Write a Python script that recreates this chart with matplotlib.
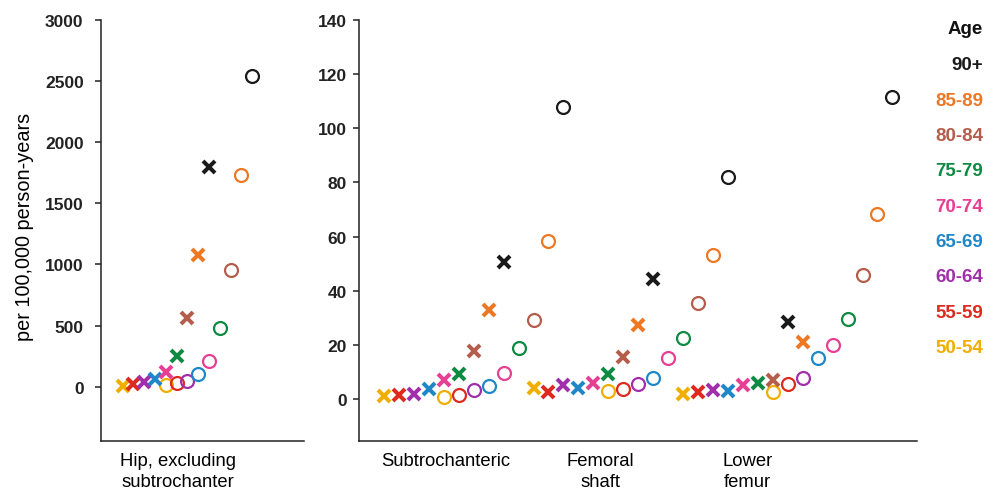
from matplotlib import pyplot as plt

# Age bands and their colours (legend order is reversed on the chart)
AGES = ["50-54", "55-59", "60-64", "65-69", "70-74", "75-79", "80-84", "85-89", "90+"]
AGE_COLOURS = [
    "#F0AE00",
    "#DD2A1E",
    "#A12FAB",
    "#1F87C8",
    "#E63F94",
    "#0E8A43",
    "#B55D4C",
    "#EE7722",
    "#1A1A1A",
]

# Rates per 100,000 person-years (x = men, o = women)
hip_male = [10, 25, 41, 65, 125, 256, 564, 1078, 1795]
hip_female = [16, 30, 51, 106, 215, 480, 958, 1732, 2541]

subtroch_male = [1.2, 1.5, 1.9, 3.7, 7.2, 9.5, 17.7, 33.0, 50.6]
subtroch_female = [1.0, 1.5, 3.3, 4.9, 9.6, 18.8, 29.4, 58.3, 107.8]

shaft_male = [4.2, 2.7, 5.4, 4.3, 5.9, 9.5, 15.7, 27.5, 44.2]
shaft_female = [3.1, 3.7, 5.6, 7.7, 15.1, 22.6, 35.4, 53.1, 82.0]

lower_male = [2.1, 2.7, 3.3, 3.1, 5.3, 5.9, 7.0, 21.0, 28.4]
lower_female = [2.7, 5.8, 8.0, 15.3, 20.0, 29.6, 45.8, 68.4, 111.4]

hip_label = "Hip, excluding\nsubtrochanter"
femur_labels = ["Subtrochanteric", "Femoral\nshaft", "Lower\nfemur"]


def configure_plots():
    plt.rcParams.update(
        {
            "font.family": "Liberation Sans",
            "font.size": 13,
            "axes.linewidth": 1.1,
            "axes.edgecolor": "#222222",
            "xtick.major.size": 0,
            "ytick.major.size": 4.5,
            "ytick.major.width": 1.1,
            "ytick.color": "#222222",
            "ytick.labelsize": 12.5,
        }
    )


def style_axis(ax, ylim, yticks, pad):
    for side in ["top", "right"]:
        ax.spines[side].set_visible(False)
    ax.set_ylim(*ylim)
    ax.set_yticks(yticks)
    ax.tick_params(axis="y", pad=pad)
    ax.tick_params(axis="x", pad=8, labelsize=13.3)
    for label in ax.get_yticklabels():
        label.set_fontweight("bold")
    for label in ax.get_xticklabels():
        label.set_linespacing(1.3)


def plot_group(ax, male, female, start, female_offset, male_slots=None):
    if male_slots is None:
        male_slots = list(range(len(AGES)))
    for i, colour in enumerate(AGE_COLOURS):
        ax.plot(
            start + male_slots[i],
            male[i],
            marker="x",
            ms=8.5,
            mew=2.9,
            color=colour,
            linestyle="none",
        )
        ax.plot(
            start + female_offset + i,
            female[i],
            marker="o",
            ms=9.3,
            mew=1.6,
            mfc="none",
            color=colour,
            linestyle="none",
        )


configure_plots()
fig = plt.figure(figsize=(9.99, 4.89), dpi=100)

# Left panel: hip fractures
ax_hip = fig.add_axes([0.1011, 0.097, 0.2032, 0.861])
plot_group(ax_hip, hip_male, hip_female, 0, 4)
ax_hip.set_xlim(-2.0, 16.8)
ax_hip.set_xticks([5.1])
ax_hip.set_xticklabels([hip_label])
style_axis(ax_hip, (-438, 3000), range(0, 3001, 500), pad=8)
ax_hip.set_ylabel("per 100,000 person-years", fontsize=14.3)
ax_hip.yaxis.set_label_coords(-0.33, 0.51)

# Right panel: other femoral fractures
ax_fem = fig.add_axes([0.3594, 0.097, 0.5586, 0.861])
plot_group(ax_fem, subtroch_male, subtroch_female, 0, 4)
plot_group(ax_fem, shaft_male, shaft_female, 10, 5)
plot_group(ax_fem, lower_male, lower_female, 20, 6, [0, 1, 2, 3, 4, 5, 6, 8, 7])
ax_fem.set_xlim(-1.67, 35.65)
ax_fem.set_xticks([4.15, 14.45, 24.3])
ax_fem.set_xticklabels(femur_labels)
style_axis(ax_fem, (-15.2, 140), range(0, 141, 20), pad=4.5)

# Coloured age legend on the right
fig.text(0.984, 1 - 30 / 489, "Age", ha="right", va="center",
         fontsize=13.5, fontweight="bold", color="#111111")
for i, (age, colour) in enumerate(zip(AGES[::-1], AGE_COLOURS[::-1])):
    y = 1 - (66 + 35.3 * i) / 489
    fig.text(0.984, y, age, ha="right", va="center",
             fontsize=13.5, fontweight="bold", color=colour)

plt.savefig("out.png", dpi=100)
plt.close()
